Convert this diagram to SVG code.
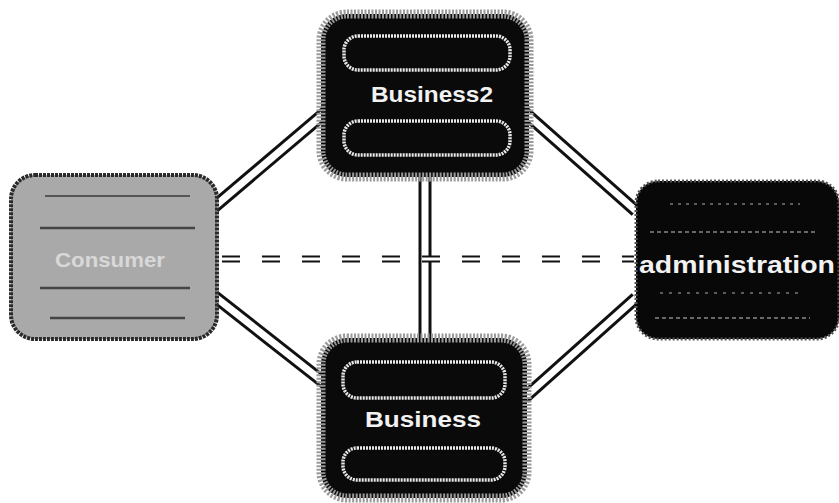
<svg xmlns="http://www.w3.org/2000/svg" width="839" height="503" viewBox="0 0 839 503">
<style>
.frame{stroke:#9a9a9a;stroke-width:9;stroke-dasharray:2 1.5}
.dark{fill:#0a0a0a}
.bar{fill:none;stroke:#e8e8e8;stroke-width:3.5;stroke-dasharray:2 1}
.lbl{font-family:"Liberation Sans",Arial,sans-serif;font-weight:bold;fill:#f2f2f2}
.edgeO{stroke:#111;stroke-width:13;fill:none;stroke-linecap:butt}
.edgeI{stroke:#fff;stroke-width:7;fill:none;stroke-linecap:butt}
.dashO{stroke:#111;stroke-width:7;fill:none;stroke-dasharray:18 22}
.dashI{stroke:#fff;stroke-width:3;fill:none;stroke-dasharray:18 22}
</style>
<rect width="839" height="503" fill="#fff"/>
<g id="connectors">
<line class="edgeO" x1="214" y1="207" x2="326" y2="112"/>
<line class="edgeI" x1="214" y1="207" x2="326" y2="112"/>
<line class="edgeO" x1="214" y1="296" x2="326" y2="384"/>
<line class="edgeI" x1="214" y1="296" x2="326" y2="384"/>
<line class="edgeO" x1="524" y1="112" x2="636" y2="211"/>
<line class="edgeI" x1="524" y1="112" x2="636" y2="211"/>
<line class="edgeO" x1="524" y1="398" x2="636" y2="298"/>
<line class="edgeI" x1="524" y1="398" x2="636" y2="298"/>
<line class="edgeO" x1="425" y1="176" x2="425" y2="340"/>
<line class="edgeI" x1="425" y1="176" x2="425" y2="340"/>
<line class="dashO" x1="222" y1="259" x2="634" y2="259"/>
<line class="dashI" x1="222" y1="259" x2="634" y2="259"/>
</g>
<g id="business2">
<rect class="dark frame" x="321" y="14" width="208" height="163" rx="26"/>
<rect class="bar" x="344" y="36" width="166" height="34" rx="14"/>
<rect class="bar" x="344" y="121" width="166" height="34" rx="14"/>
<text class="lbl" x="432" y="102" font-size="22" text-anchor="middle" textLength="122" lengthAdjust="spacingAndGlyphs">Business2</text>
</g>
<g id="business">
<rect class="dark frame" x="321" y="338" width="206" height="160" rx="26"/>
<rect class="bar" x="343" y="362" width="162" height="36" rx="14"/>
<rect class="bar" x="343" y="448" width="162" height="32" rx="14"/>
<text class="lbl" x="423" y="427" font-size="22" text-anchor="middle" textLength="116" lengthAdjust="spacingAndGlyphs">Business</text>
</g>
<g id="consumer">
<rect x="11" y="175" width="206" height="164" rx="24" fill="#a9a9a9" stroke="#2a2a2a" stroke-width="4" stroke-dasharray="3 1"/>
<line x1="45" y1="196" x2="190" y2="196" stroke="#555" stroke-width="2"/>
<line x1="40" y1="228" x2="195" y2="228" stroke="#444" stroke-width="2.5"/>
<line x1="40" y1="288" x2="190" y2="288" stroke="#444" stroke-width="2.5"/>
<line x1="50" y1="318" x2="185" y2="318" stroke="#444" stroke-width="2.5"/>
<text x="110" y="267" font-family="Liberation Sans, Arial, sans-serif" font-weight="bold" font-size="20" fill="#d8d8d8" text-anchor="middle" textLength="110" lengthAdjust="spacingAndGlyphs">Consumer</text>
</g>
<g id="administration">
<rect x="636" y="181" width="203" height="158" rx="22" fill="#080808" stroke="#555" stroke-width="3" stroke-dasharray="2 2"/>
<line x1="670" y1="204" x2="800" y2="204" stroke="#777" stroke-width="1.5" stroke-dasharray="3 5"/>
<line x1="650" y1="232" x2="815" y2="232" stroke="#888" stroke-width="1.5" stroke-dasharray="4 3"/>
<line x1="660" y1="293" x2="800" y2="293" stroke="#777" stroke-width="1.5" stroke-dasharray="3 6"/>
<line x1="655" y1="318" x2="810" y2="318" stroke="#888" stroke-width="1.5" stroke-dasharray="4 3"/>
<text class="lbl" x="737" y="273" font-size="24" text-anchor="middle" textLength="196" lengthAdjust="spacingAndGlyphs">administration</text>
</g>
</svg>
